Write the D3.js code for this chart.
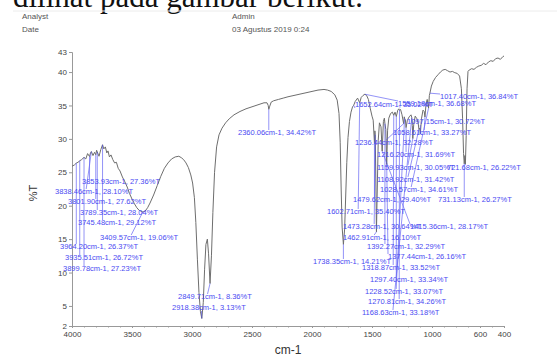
<!DOCTYPE html>
<html>
<head>
<meta charset="utf-8">
<script src="https://cdn.jsdelivr.net/npm/d3@7"></script>
<style>
  body { margin: 0; background: #fff; }
  svg { display: block; font-family: "Liberation Sans", Arial, sans-serif; }
</style>
</head>
<body>
<svg id="chart" width="557" height="356"></svg>
<script>
// spectrum, wavenumber (cm-1) and transmittance (%T)
const wavenumber = [4000,3980,3964.20,3950,3935.51,3920,3899.78,3885,3870,3853.93,3846,3838.46,3825,3812,3801.90,3795,3789.35,3775,3760,3745.48,3735,3722,3710,3700,3688,3675,3660,3645,3630,3615,3600,3580,3560,3540,3520,3500,3480,3460,3440,3409.57,3390,3370,3350,3320,3290,3260,3230,3200,3170,3140,3110,3090,3070,3050,3030,3010,2995,2980,2968,2955,2942,2930,2918.38,2906,2895,2884,2872,2862,2849.71,2838,2826,2812,2795,2775,2750,2720,2690,2650,2600,2550,2500,2450,2400,2375,2365,2360.06,2352,2340,2320,2280,2240,2200,2150,2100,2050,2000,1950,1900,1870,1840,1810,1790,1775,1765,1757,1749,1738.35,1728,1720,1710,1700,1688,1675,1662,1652.64,1640,1620,1602.71,1590,1575,1559.18,1545,1530,1515,1500,1490,1479.62,1476,1473.28,1468,1462.91,1456,1448,1438,1425,1415.36,1405,1397,1392.27,1385,1377.44,1370,1360,1345,1330,1318.87,1308,1297.40,1285,1276,1270.81,1262,1250,1236.44,1231,1228.52,1222,1216.20,1205,1190,1175,1168.63,1164,1159.93,1152,1140,1125,1115,1108.92,1102,1097.15,1088,1075,1065,1058.61,1050,1040,1028.57,1022,1017.40,1005,990,970,950,930,910,890,870,850,830,810,790,770,755,745,737,731.13,726,721.68,715,708,700,690,670,650,630,610,590,570,550,530,510,490,470,450,430,410,400];
const transmittance = [25.9,26.1,26.37,26.5,26.72,26.9,27.23,27.0,27.8,27.36,27.9,28.10,27.5,28.0,27.62,28.3,28.04,27.4,28.4,29.12,28.5,28.8,27.9,28.2,27.3,27.6,26.9,26.4,26.5,25.6,25.2,24.3,23.6,22.8,21.8,21.0,20.3,19.7,19.3,19.06,19.2,19.7,20.4,21.6,23.0,24.4,25.6,26.4,27.0,27.3,27.4,27.2,26.9,26.4,25.7,24.6,23.4,21.2,17.5,12.0,7.0,4.2,3.13,5.5,10.5,14.2,15.0,12.8,8.36,12.5,19.0,25.0,28.8,30.6,31.6,32.4,33.0,33.6,34.1,34.5,34.8,35.1,35.4,35.4,35.0,34.42,34.9,35.5,35.7,35.9,36.1,36.3,36.5,36.7,36.9,37.1,37.3,37.4,37.3,37.1,36.6,35.8,33.8,29.5,22.5,16.8,14.21,16.5,21.0,26.5,30.2,32.6,34.0,34.8,35.02,35.6,36.1,35.40,36.2,36.5,36.68,36.5,35.9,34.6,33.4,32.8,29.40,31.2,30.64,24.0,16.10,22.5,29.8,32.4,31.8,28.17,32.6,33.1,32.29,31.4,26.16,31.3,33.1,33.8,34.0,33.52,34.0,33.34,34.3,34.5,34.26,34.4,33.6,32.28,33.3,33.07,32.9,31.69,32.8,33.3,33.6,33.18,32.0,30.05,32.2,33.4,33.0,32.3,31.42,31.6,30.72,33.0,34.3,34.1,33.27,35.2,35.9,34.61,36.5,36.84,37.9,38.6,39.2,39.6,40.0,40.3,40.4,40.2,40.0,40.1,39.9,39.8,39.4,37.5,33.0,27.8,26.27,27.5,26.22,30.5,37.5,40.1,40.3,40.5,40.4,40.7,40.9,41.0,41.3,41.1,41.5,41.7,41.6,42.0,42.1,41.9,42.3,42.4];

// picked peaks
const peakWn = [3853.93,3838.46,3801.90,3789.35,3745.48,3409.57,3964.20,3935.51,3899.78,2849.71,2918.38,2360.06,1738.35,1652.64,1559.18,1017.40,1097.15,1058.61,1236.44,1216.20,1159.93,721.68,1108.92,1028.57,1479.62,731.13,1602.71,1473.28,1415.36,1462.91,1392.27,1377.44,1318.87,1297.40,1228.52,1270.81,1168.63];
const peakT = [27.36,28.10,27.62,28.04,29.12,19.06,26.37,26.72,27.23,8.36,3.13,34.42,14.21,35.02,36.68,36.84,30.72,33.27,32.28,31.69,30.05,26.22,31.42,34.61,29.40,26.27,35.40,30.64,28.17,16.10,32.29,26.16,33.52,33.34,33.07,34.26,33.18];

const xTicks = [4000,3500,3000,2500,2000,1500,1000,600,400];
const yTicks = [43,40,35,30,25,20,15,10,5,2];
const headerLeft = ["Analyst","Date"];
const headerRight = ["Admin","03 Agustus 2019 0:24"];

// where each peak label sits (pixels, left edge / middle)
const labelPos = [[82,182],[55,192],[68,202],[80,213],[78,223],[100,238],[60,247],[65,258],[63,269],[178,297],[172,308],[238,133],[313,262],[355,105],[398,104],[440,97],[407,122],[393,133],[355,143],[377,155],[377,168],[447,168],[377,180],[380,190],[353,200],[438,200],[327,212],[343,227],[410,227],[343,238],[367,247],[388,257],[362,268],[370,280],[365,292],[368,302],[362,313]];

const svg = d3.select("#chart");

// bit of the document text above the figure, cut by the page edge
svg.append("text")
  .attr("x", 13).attr("y", 7)
  .attr("font-family", "'Liberation Serif', 'Times New Roman', serif")
  .attr("font-size", 31)
  .attr("fill", "#111")
  .text("dilihat pada gambar berikut:");
svg.append("line")
  .attr("x1", 13).attr("x2", 557).attr("y1", 11).attr("y2", 11)
  .attr("stroke", "#ececec");

const hdr = svg.append("g").attr("font-size", 8).attr("fill", "#555");
hdr.selectAll("text.l").data(headerLeft).join("text").attr("class", "l")
  .attr("x", 22).attr("y", (d, i) => 19 + i * 13).text(d => d);
hdr.selectAll("text.r").data(headerRight).join("text").attr("class", "r")
  .attr("x", 232).attr("y", (d, i) => 19 + i * 13).text(d => d);

const x = d3.scaleLinear().domain([4000, 400]).range([72, 504]);
const y = d3.scaleLinear().domain([2, 43]).range([326, 52]);

// axes
svg.append("g")
  .attr("transform", `translate(0,${y(2)})`)
  .call(d3.axisBottom(x).tickValues(xTicks).tickSize(2).tickPadding(3).tickFormat(d3.format("d")));
svg.append("g")
  .attr("transform", `translate(0,${y(2)})`)
  .call(d3.axisBottom(x).tickValues(d3.range(4000, 399, -100)).tickSize(1.5).tickFormat(""))
  .call(g => g.select(".domain").remove());
svg.append("g")
  .attr("transform", `translate(${x(4000)},0)`)
  .call(d3.axisLeft(y).tickValues(yTicks).tickSize(3).tickPadding(2).tickFormat(d3.format("d")));

svg.selectAll(".tick text").attr("font-size", 8).attr("fill", "#444");
svg.selectAll(".domain").attr("stroke", "#999");
svg.selectAll(".tick line").attr("stroke", "#999");

svg.append("text")
  .attr("x", 288).attr("y", 354)
  .attr("text-anchor", "middle")
  .attr("font-size", 12).attr("fill", "#333")
  .text("cm-1");
svg.append("text")
  .attr("transform", "translate(37,193) rotate(-90)")
  .attr("text-anchor", "middle")
  .attr("font-size", 11).attr("fill", "#333")
  .text("%T");

// spectrum
const pts = wavenumber.map((w, i) => [w, transmittance[i]]);
const line = d3.line().x(d => x(d[0])).y(d => y(d[1]));
svg.append("path")
  .datum(pts)
  .attr("fill", "none")
  .attr("stroke", "#6e6e6e")
  .attr("stroke-width", 1)
  .attr("stroke-linejoin", "round")
  .attr("d", line);

// peak labels and leaders
const blue = "#4a4af2";
const leaders = svg.append("g").attr("stroke", blue).attr("stroke-width", 0.7).attr("opacity", 0.85);
const labels = svg.append("g").attr("font-size", 7.5).attr("fill", blue);

peakWn.forEach((w, i) => {
  const [lx, ly] = labelPos[i];
  const t = labels.append("text")
    .attr("x", lx).attr("y", ly)
    .attr("dominant-baseline", "middle")
    .text(`${w.toFixed(2)}cm-1, ${peakT[i].toFixed(2)}%T`);
  const wdt = t.node().getComputedTextLength();
  const px = x(w), py = y(peakT[i]);
  const ex = Math.max(lx, Math.min(lx + wdt * 0.4, px));
  const ey = py < ly ? ly - 3 : ly + 3;
  leaders.append("line")
    .attr("x1", px).attr("y1", py)
    .attr("x2", ex).attr("y2", ey);
});
</script>
</body>
</html>
